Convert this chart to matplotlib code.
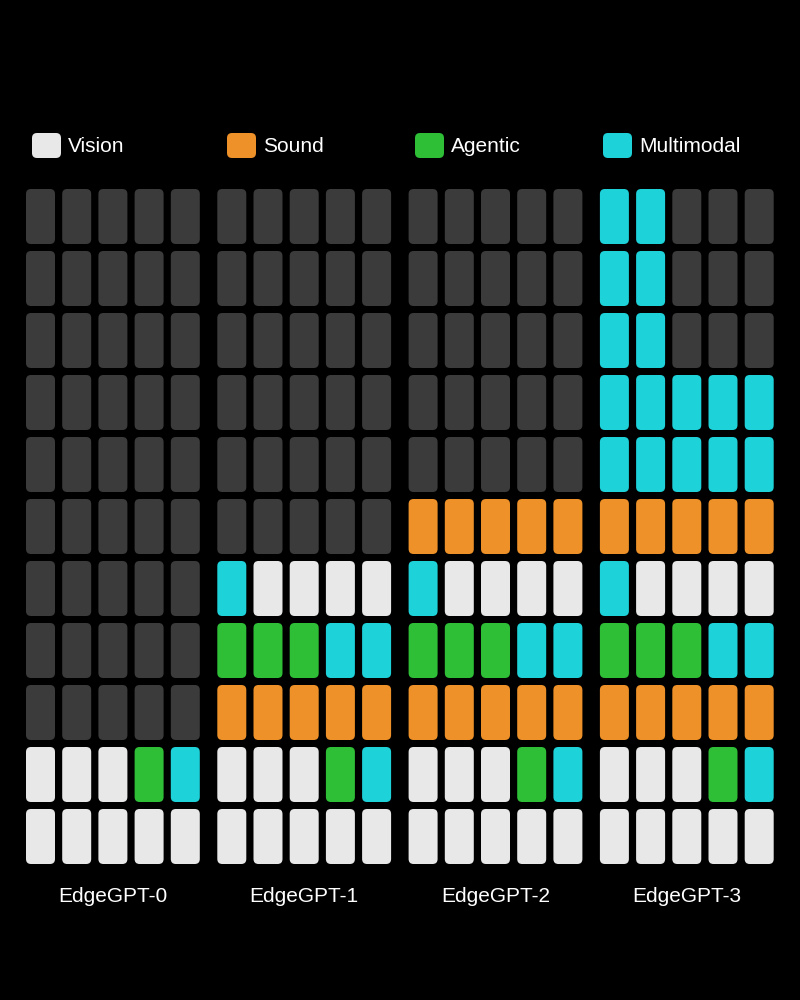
import matplotlib.pyplot as plt
from matplotlib.patches import FancyBboxPatch

# Kategorie i kolory
categories = ["Vision", "Sound", "Agentic", "Multimodal"]
codes = ["V", "S", "A", "M"]
colors = {"V": "#e8e8e8", "S": "#ee9128", "A": "#2ebf37", "M": "#1ed2d9", "E": "#3b3b3b"}

models = ["EdgeGPT-0", "EdgeGPT-1", "EdgeGPT-2", "EdgeGPT-3"]

# Warstwy modeli, od dołu do góry (E = puste)
edgegpt0 = ["VVVVV", "VVVAM", "EEEEE", "EEEEE", "EEEEE", "EEEEE",
            "EEEEE", "EEEEE", "EEEEE", "EEEEE", "EEEEE"]
edgegpt1 = ["VVVVV", "VVVAM", "SSSSS", "AAAMM", "MVVVV", "EEEEE",
            "EEEEE", "EEEEE", "EEEEE", "EEEEE", "EEEEE"]
edgegpt2 = ["VVVVV", "VVVAM", "SSSSS", "AAAMM", "MVVVV", "SSSSS",
            "EEEEE", "EEEEE", "EEEEE", "EEEEE", "EEEEE"]
edgegpt3 = ["VVVVV", "VVVAM", "SSSSS", "AAAMM", "MVVVV", "SSSSS",
            "MMMMM", "MMMMM", "MMEEE", "MMEEE", "MMEEE"]
grids = [edgegpt0, edgegpt1, edgegpt2, edgegpt3]

fig = plt.figure(figsize=(8, 10), dpi=100, facecolor="black")
ax = fig.add_axes([0, 0, 1, 1])
ax.set_facecolor("black")
ax.set_xlim(0, 800)
ax.set_ylim(1000, 0)
ax.axis("off")

x_start, group_step, col_step = 26, 191.3, 36.2
cell_w, cell_h = 29, 55
row_step, bottom_top = 62, 809

for g, (name, grid) in enumerate(zip(models, grids)):
    gx = x_start + g * group_step
    for r, row in enumerate(grid):
        y = bottom_top - r * row_step
        for c, code in enumerate(row):
            x = gx + c * col_step
            ax.add_patch(FancyBboxPatch((x, y), cell_w, cell_h,
                                        boxstyle="round,pad=0,rounding_size=5",
                                        facecolor=colors[code], edgecolor="none"))
    ax.text(gx + 4 * col_step / 2 + cell_w / 2, 896, name, color="white",
            fontsize=15, ha="center", va="center", family="Liberation Sans")

# Legenda
leg_x = [32, 227, 415, 603]
for lx, cat, code in zip(leg_x, categories, codes):
    ax.add_patch(FancyBboxPatch((lx, 133), 29, 25,
                                boxstyle="round,pad=0,rounding_size=5",
                                facecolor=colors[code], edgecolor="none"))
    ax.text(lx + 36, 146, cat, color="white", fontsize=15,
            ha="left", va="center", family="Liberation Sans")

plt.savefig("out.png", dpi=100, facecolor="black")
